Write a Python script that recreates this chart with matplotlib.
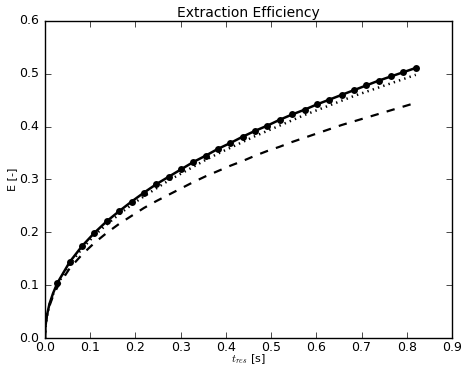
import matplotlib
matplotlib.use('Agg')
import matplotlib.pyplot as plt
import numpy as np

# residence time [s] (marker grid) and extra points near t=0 for the curves
t_start = [0.0, 0.001, 0.004, 0.01, 0.018]
t_grid = [0.0273, 0.0547, 0.0820, 0.1093, 0.1367, 0.1640, 0.1913, 0.2187,
          0.2460, 0.2733, 0.3007, 0.3280, 0.3553, 0.3827, 0.4100, 0.4373,
          0.4647, 0.4920, 0.5193, 0.5467, 0.5740, 0.6013, 0.6287, 0.6560,
          0.6833, 0.7107, 0.7380, 0.7653, 0.7927, 0.8200]

# extraction efficiency, solid curve with markers
E_solid_start = [0.0, 0.022, 0.042, 0.065, 0.085]
E_solid = [0.104, 0.144, 0.174, 0.199, 0.221, 0.240, 0.258, 0.275, 0.291,
           0.305, 0.319, 0.333, 0.345, 0.358, 0.369, 0.381, 0.392, 0.402,
           0.413, 0.423, 0.432, 0.442, 0.451, 0.460, 0.469, 0.478, 0.487,
           0.495, 0.503, 0.511]

# dotted curve
E_dot_start = [0.0, 0.021, 0.041, 0.063, 0.083]
E_dot = [0.101, 0.140, 0.169, 0.194, 0.215, 0.234, 0.252, 0.268, 0.283,
         0.298, 0.311, 0.324, 0.337, 0.349, 0.360, 0.371, 0.382, 0.392,
         0.402, 0.412, 0.422, 0.431, 0.440, 0.449, 0.458, 0.466, 0.474,
         0.482, 0.490, 0.498]

# dashed curve
E_dash_start = [0.0, 0.022, 0.041, 0.061, 0.080]
E_dash = [0.096, 0.132, 0.158, 0.180, 0.199, 0.216, 0.231, 0.246, 0.259,
          0.271, 0.283, 0.295, 0.306, 0.316, 0.326, 0.335, 0.345, 0.354,
          0.362, 0.371, 0.379, 0.387, 0.395, 0.403, 0.410, 0.417, 0.424,
          0.431, 0.438, 0.445]

plt.style.use('classic')
plt.rcParams['font.family'] = 'DejaVu Sans'

fig = plt.figure(figsize=(4.64, 3.67), dpi=100, facecolor='white')
ax = fig.add_axes([0.097, 0.079, 0.877, 0.864])

ax.plot(t_start + t_grid, E_solid_start + E_solid, 'k-', lw=1.8)
ax.plot(t_grid, E_solid, 'ko', ms=5, mew=0)
ax.plot(t_start + t_grid, E_dot_start + E_dot, 'k:', lw=1.8)
ax.plot(t_start + t_grid, E_dash_start + E_dash, 'k--', lw=1.6)

ax.set_xlim(0, 0.9)
ax.set_ylim(0, 0.6)
ax.set_xticks(np.arange(0, 0.91, 0.1))
ax.set_yticks(np.arange(0, 0.61, 0.1))
ax.tick_params(labelsize=9)
ax.tick_params(axis='x', pad=2)
ax.set_title('Extraction Efficiency', fontsize=10, pad=3)
ax.set_xlabel(r'$t_{res}$ [s]', fontsize=8, labelpad=-1)
ax.set_ylabel('E [-]', fontsize=8, labelpad=2)

fig.savefig('out.png', dpi=100, facecolor='white')
